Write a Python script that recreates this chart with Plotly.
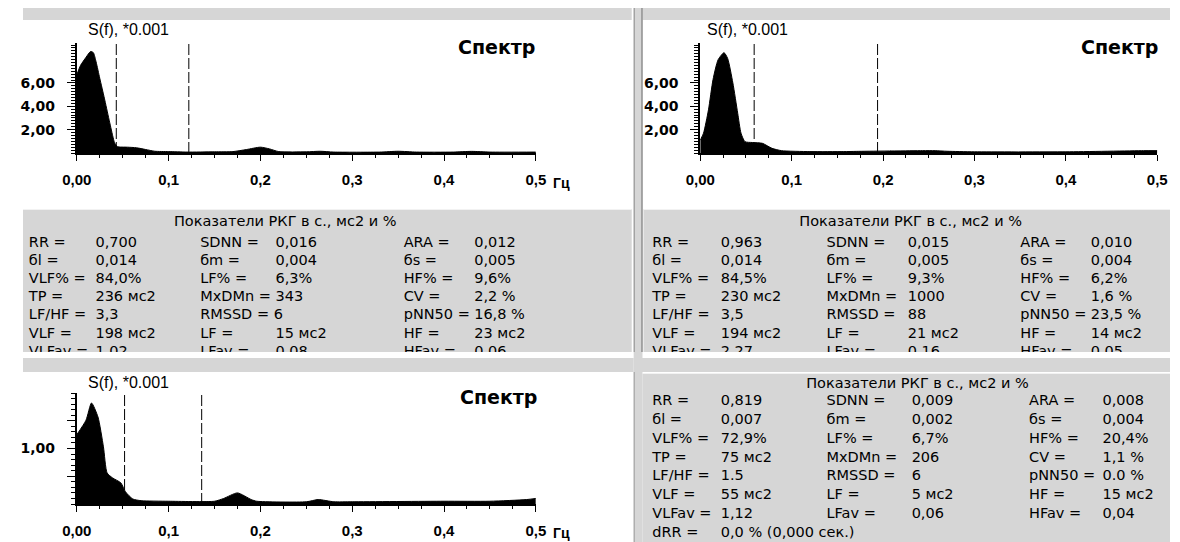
import plotly.graph_objects as go

# the page adds an 8px body margin, so the figure covers screen pixels 8..1180 x 8..542
OX, OY = 8, 8
W, H = 1180 - OX, 542 - OY

# ---------------- data ----------------
# Spectrum 1 (top-left)
f1 = [0.000, 0.004, 0.010, 0.015, 0.018, 0.021, 0.025, 0.030, 0.035, 0.039, 0.041, 0.044,
      0.055, 0.065, 0.075, 0.085, 0.100, 0.120, 0.150, 0.170, 0.185, 0.200, 0.210, 0.220,
      0.250, 0.265, 0.280, 0.330, 0.350, 0.370, 0.410, 0.430, 0.450, 0.500]
s1 = [6.7, 7.5, 8.2, 8.7, 8.6, 7.8, 6.4, 4.7, 2.9, 1.5, 0.9, 0.55,
      0.50, 0.45, 0.30, 0.15, 0.12, 0.08, 0.10, 0.12, 0.30, 0.50, 0.35, 0.12,
      0.10, 0.15, 0.08, 0.08, 0.15, 0.08, 0.08, 0.14, 0.08, 0.08]
bounds1 = [0.043, 0.122]

# Spectrum 2 (top-right)
f2 = [0.000, 0.0036, 0.009, 0.014, 0.0196, 0.026, 0.030, 0.0357, 0.041, 0.0446, 0.049,
      0.057, 0.068, 0.0785, 0.089, 0.120, 0.157, 0.171, 0.243, 0.257, 0.270, 0.300,
      0.400, 0.485, 0.500]
s2 = [1.1, 1.7, 3.7, 6.3, 8.0, 8.6, 8.1, 6.0, 3.4, 1.7, 0.97,
      0.90, 0.83, 0.40, 0.20, 0.12, 0.12, 0.14, 0.20, 0.20, 0.15, 0.10,
      0.10, 0.20, 0.20]
bounds2 = [0.059, 0.194]

# Spectrum 3 (bottom-left)
f3 = [0.000, 0.010, 0.016, 0.023, 0.029, 0.033, 0.039, 0.048, 0.053, 0.061, 0.070,
      0.100, 0.150, 0.160, 0.175, 0.190, 0.196, 0.250, 0.263, 0.280, 0.300, 0.400,
      0.450, 0.490, 0.500]
s3 = [1.25, 1.51, 1.82, 1.57, 1.03, 0.56, 0.47, 0.38, 0.22, 0.09, 0.06,
      0.05, 0.05, 0.10, 0.20, 0.08, 0.05, 0.04, 0.08, 0.04, 0.04, 0.05,
      0.05, 0.08, 0.10]
bounds3 = [0.052, 0.136]

x_tickvals = [0, 0.1, 0.2, 0.3, 0.4, 0.5]
x_ticktext = ["0,00", "0,1", "0,2", "0,3", "0,4", "0,5"]
y_tickvals_top = [2, 4, 6]
y_ticktext_top = ["2,00", "4,00", "6,00"]
y_tickvals_bot = [0.5, 1.0, 1.5]
y_ticktext_bot = ["", "1,00", ""]

spec_title = "S(f), *0.001"
spec_name = "Спектр"
unit = "Гц"
table_title = "Показатели РКГ в с., мс2 и %"

# Table 1 (top-left), rows x 3 columns of (label, value)
t1_labels = [["RR =", "SDNN =", "ARA ="],
             ["бl =", "бm =", "бs ="],
             ["VLF% =", "LF% =", "HF% ="],
             ["TP =", "MxDMn =", "CV ="],
             ["LF/HF =", "RMSSD = 6", "pNN50 ="],
             ["VLF =", "LF =", "HF ="],
             ["VLFav =", "LFav =", "HFav ="]]
t1_values = [["0,700", "0,016", "0,012"],
             ["0,014", "0,004", "0,005"],
             ["84,0%", "6,3%", "9,6%"],
             ["236 мс2", "343", "2,2 %"],
             ["3,3", "", "16,8 %"],
             ["198 мс2", "15 мс2", "23 мс2"],
             ["1,02", "0,08", "0,06"]]

# Table 2 (top-right)
t2_labels = [["RR =", "SDNN =", "ARA ="],
             ["бl =", "бm =", "бs ="],
             ["VLF% =", "LF% =", "HF% ="],
             ["TP =", "MxDMn =", "CV ="],
             ["LF/HF =", "RMSSD =", "pNN50 ="],
             ["VLF =", "LF =", "HF ="],
             ["VLFav =", "LFav =", "HFav ="]]
t2_values = [["0,963", "0,015", "0,010"],
             ["0,014", "0,005", "0,004"],
             ["84,5%", "9,3%", "6,2%"],
             ["230 мс2", "1000", "1,6 %"],
             ["3,5", "88", "23,5 %"],
             ["194 мс2", "21 мс2", "14 мс2"],
             ["2,27", "0,16", "0,05"]]

# Table 3 (bottom-right)
t3_labels = [["RR =", "SDNN =", "ARA ="],
             ["бl =", "бm =", "бs ="],
             ["VLF% =", "LF% =", "HF% ="],
             ["TP =", "MxDMn =", "CV ="],
             ["LF/HF =", "RMSSD =", "pNN50 ="],
             ["VLF =", "LF =", "HF ="],
             ["VLFav =", "LFav =", "HFav ="],
             ["dRR =", "", ""]]
t3_values = [["0,819", "0,009", "0,008"],
             ["0,007", "0,002", "0,004"],
             ["72,9%", "6,7%", "20,4%"],
             ["75 мс2", "206", "1,1 %"],
             ["1.5", "6", "0.0 %"],
             ["55 мс2", "5 мс2", "15 мс2"],
             ["1,12", "0,06", "0,04"],
             ["0,0 % (0,000 сек.)", "", ""]]

# ---------------- layout helpers (screen pixels -> paper) ----------------
def px(x):
    return (x - OX) / W

def py(y):
    return 1 - (y - OY) / H

GRAY = "#d6d6d6"
TABLE_FONT = dict(family="DejaVu Sans", size=14.5, color="#000000")
TITLE_FONT = dict(family="DejaVu Sans", size=14.5, color="#000000")

fig = go.Figure()

for f, s, ax in [(f1, s1, ""), (f2, s2, "2"), (f3, s3, "3")]:
    fig.add_trace(go.Scatter(x=f, y=s, mode="lines", fill="tozeroy",
                             fillcolor="black",
                             line=dict(color="black", width=1, shape="spline", smoothing=0.6),
                             xaxis="x" + ax, yaxis="y" + ax, hoverinfo="skip"))

def table_trace(labels, values, lab_x, val_x, y0, dy, axis):
    xs, ys, ts = [], [], []
    for i, (lrow, vrow) in enumerate(zip(labels, values)):
        y = y0 + dy * i
        for j in range(3):
            if lrow[j]:
                xs.append(lab_x[j]); ys.append(y); ts.append(lrow[j])
            if vrow[j]:
                xs.append(val_x[j]); ys.append(y); ts.append(vrow[j])
    return go.Scatter(x=xs, y=ys, text=ts, mode="text", textposition="middle right",
                      textfont=TABLE_FONT, xaxis="x" + axis, yaxis="y" + axis,
                      hoverinfo="skip", cliponaxis=True)

fig.add_trace(table_trace(t1_labels, t1_values, [14, 189, 397], [82, 266, 469], 243, 18.2, "4"))
fig.add_trace(table_trace(t2_labels, t2_values, [651, 829, 1027], [721, 912, 1099], 243, 18.2, "4"))
fig.add_trace(table_trace(t3_labels, t3_values, [651, 829, 1036], [721, 916, 1111], 401.5, 18.8, "5"))
fig.add_trace(go.Scatter(x=[276, 915], y=[222, 222], text=[table_title, table_title],
                         mode="text", textposition="middle center", textfont=TITLE_FONT,
                         xaxis="x4", yaxis="y4", hoverinfo="skip"))
fig.add_trace(go.Scatter(x=[922], y=[384], text=[table_title],
                         mode="text", textposition="middle center", textfont=TITLE_FONT,
                         xaxis="x5", yaxis="y5", hoverinfo="skip"))

xtickfont = dict(family="Liberation Sans", size=15, color="black", weight="bold")
ytickfont = dict(family="DejaVu Sans", size=14, color="black", weight="bold")

def xaxis(dom, anchor):
    return dict(domain=dom, range=[0, 0.5], anchor=anchor, showgrid=False, zeroline=False,
                showline=True, linecolor="black", linewidth=2,
                tickvals=x_tickvals, ticktext=x_ticktext, ticks="outside",
                ticklen=6, tickwidth=1, tickcolor="black", tickfont=xtickfont,
                ticklabelstandoff=6,
                minor=dict(dtick=0.025, ticklen=3, ticks="outside", tickcolor="black"),
                fixedrange=True)

def yaxis(dom, rng, tv, tt, mdt, anchor):
    return dict(domain=dom, range=rng, anchor=anchor, showgrid=False, zeroline=False,
                showline=True, linecolor="black", linewidth=2,
                tickvals=tv, ticktext=tt, ticks="outside", ticklen=8, tickwidth=1,
                tickcolor="black", tickfont=ytickfont, ticklabelstandoff=9,
                minor=dict(dtick=mdt, ticklen=4, ticks="outside", tickcolor="black"),
                fixedrange=True)

top_dom = [py(153), py(43)]
bot_dom = [py(504), py(393)]
top_max = (153 - 43) / 11.67
bot_max = 2.0

hidden = dict(visible=False, showgrid=False, zeroline=False, fixedrange=True)

fig.update_layout(
    width=W, height=H, margin=dict(l=0, r=0, t=0, b=0, pad=0),
    paper_bgcolor="white", plot_bgcolor="rgba(0,0,0,0)", showlegend=False,
    separators=", ",
    xaxis=xaxis([px(63), px(532)], "y"),
    yaxis=yaxis(top_dom, [0, top_max], y_tickvals_top, y_ticktext_top, 0.25, "x"),
    xaxis2=xaxis([px(700), px(1167)], "y2"),
    yaxis2=yaxis(top_dom, [0, top_max], y_tickvals_top, y_ticktext_top, 0.25, "x2"),
    xaxis3=xaxis([px(63), px(532)], "y3"),
    yaxis3=yaxis(bot_dom, [0, bot_max], y_tickvals_bot, y_ticktext_bot, 0.1, "x3"),
    xaxis4=dict(hidden, domain=[0, 1], range=[OX, 1180], anchor="y4"),
    yaxis4=dict(hidden, domain=[py(352), 1], range=[352, OY], anchor="x4"),
    xaxis5=dict(hidden, domain=[0, 1], range=[OX, 1180], anchor="y5"),
    yaxis5=dict(hidden, domain=[0, py(352)], range=[542, 352], anchor="x5"),
)

def rect(x0, y0, x1, y1, color):
    return dict(type="rect", xref="paper", yref="paper", x0=px(x0), x1=px(x1),
                y0=py(y1), y1=py(y0), fillcolor=color, line=dict(width=0), layer="below")

def vline(x, y0, y1, color, w=1):
    return dict(type="line", xref="paper", yref="paper", x0=px(x), x1=px(x),
                y0=py(y1), y1=py(y0), line=dict(color=color, width=w), layer="below")

def hline(y, x0, x1, color, w=1):
    return dict(type="line", xref="paper", yref="paper", x0=px(x0), x1=px(x1),
                y0=py(y), y1=py(y), line=dict(color=color, width=w), layer="below")

shapes = [
    rect(8, 8, 630, 20, GRAY),
    rect(641, 8, 1180, 20, GRAY),
    rect(632, 8, 641, 542, GRAY),
    rect(8, 209, 630, 352, GRAY),
    rect(642, 209, 1180, 352, GRAY),
    rect(8, 358, 632, 372, GRAY),
    rect(640, 358, 1180, 372, GRAY),
    rect(641, 373, 1180, 542, GRAY),
    hline(209.5, 8, 630, "#f2f2f2"),
    hline(209.5, 642, 1180, "#f2f2f2"),
    hline(373.5, 641, 1180, "#f2f2f2"),
    vline(632.5, 8, 352, "#8a8a8a"),
    vline(640.5, 8, 352, "#6a6a6a"),
    vline(632.5, 372, 542, "#9a9a9a"),
]

for b, xr, yr, top in [(bounds1, "x", "y", top_max), (bounds2, "x2", "y2", top_max),
                       (bounds3, "x3", "y3", bot_max)]:
    for v in b:
        shapes.append(dict(type="line", xref=xr, yref=yr, x0=v, x1=v, y0=0, y1=top,
                           line=dict(color="black", width=1, dash="11px,3px"), layer="above"))

fig.update_layout(shapes=shapes)

ann = []
title_font = dict(family="Liberation Sans", size=16, color="black")
name_font = dict(family="DejaVu Sans", size=19, color="black", weight="bold")
unit_font = dict(family="Liberation Sans", size=14, color="black", weight="bold")
for x, y in [(72, 30), (705, 30), (72, 382)]:
    ann.append(dict(x=px(x), y=py(y), xref="paper", yref="paper", text=spec_title,
                    showarrow=False, xanchor="left", yanchor="middle", font=title_font))
for x, y in [(450, 47), (1087, 47), (452, 397)]:
    ann.append(dict(x=px(x), y=py(y), xref="paper", yref="paper", text=spec_name,
                    showarrow=False, xanchor="left", yanchor="middle", font=name_font))
for x, y in [(547, 183), (547, 533)]:
    ann.append(dict(x=px(x), y=py(y), xref="paper", yref="paper", text=unit,
                    showarrow=False, xanchor="left", yanchor="middle", font=unit_font))
fig.update_layout(annotations=ann)

fig.write_html("out.html")
